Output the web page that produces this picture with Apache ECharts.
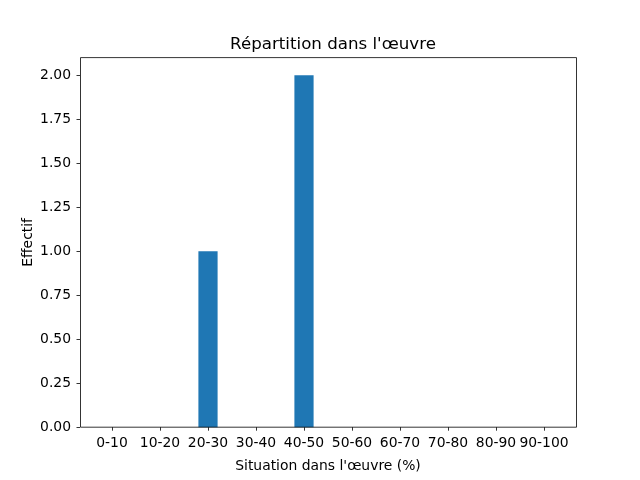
<!DOCTYPE html>
<html><head><meta charset="utf-8">
<script src="https://cdn.jsdelivr.net/npm/echarts@6/dist/echarts.min.js"></script>
<style>html,body{margin:0;padding:0;background:#fff}#c{width:640px;height:480px}</style>
</head><body><div id="c"></div>
<script>
var categories = ['0-10','10-20','20-30','30-40','40-50','50-60','60-70','70-80','80-90','90-100'];
var counts = [0,0,1,0,2,0,0,0,0,0];
var yTicks = [0,0.25,0.5,0.75,1,1.25,1.5,1.75,2];

var chart = echarts.init(document.getElementById('c'), null, {renderer:'canvas'});
var font = 'DejaVu Sans';
chart.setOption({
  animation:false,
  backgroundColor:'#fff',
  title:{text:"Répartition dans l'œuvre", left:328, top:31, textAlign:'center',
    textStyle:{fontFamily:font, fontSize:16.67, fontWeight:'normal', color:'#000'}},
  grid:{left:88, right:72, top:57.6, bottom:52.8},
  xAxis:{type:'category', data:categories, boundaryGap:true,
    name:"Situation dans l'œuvre (%)", nameLocation:'middle', nameGap:32,
    nameMoveOverlap:false,
    nameTextStyle:{fontFamily:font, fontSize:13.9, color:'#000'},
    axisLine:{show:false},
    axisTick:{show:true, inside:false, alignWithLabel:true, length:3.5, lineStyle:{color:'#000', width:0.8}},
    axisLabel:{fontFamily:font, fontSize:13.9, color:'#000', margin:9, interval:0, hideOverlap:false},
    splitLine:{show:false}},
  yAxis:{type:'value', min:0, max:2.1, interval:0.25, offset:8,
    name:'Effectif', nameLocation:'middle', nameGap:45,
    nameMoveOverlap:false,
    nameTextStyle:{fontFamily:font, fontSize:13.9, color:'#000'},
    axisLine:{show:false},
    axisTick:{show:true, inside:false, length:3.5, lineStyle:{color:'#000', width:0.8}},
    axisLabel:{fontFamily:font, fontSize:13.9, color:'#000', margin:9,
      showMaxLabel:false,
      formatter:function(v){ return yTicks.indexOf(v) >= 0 ? v.toFixed(2) : ''; }},
    splitLine:{show:false}},
  series:[{type:'bar', data:counts, barWidth:'40%',
    itemStyle:{color:'#1f77b4', borderWidth:0, borderRadius:0}}],
  graphic:[{type:'rect', z:100, silent:true,
    shape:{x:80.5, y:57.6, width:496, height:369.6},
    style:{fill:null, stroke:'#000', lineWidth:0.8}}]
});
</script></body></html>
